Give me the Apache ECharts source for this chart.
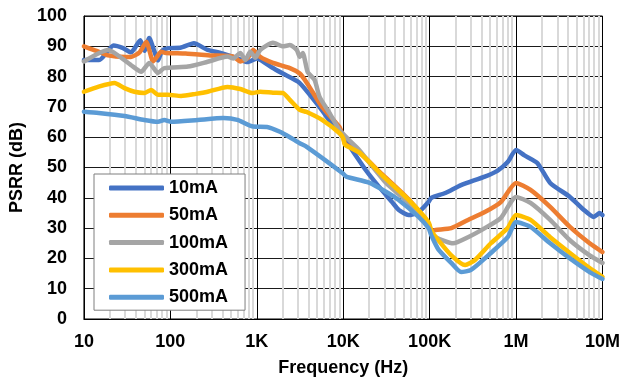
<!DOCTYPE html>
<html><head><meta charset="utf-8">
<script src="https://cdn.jsdelivr.net/npm/echarts@6/dist/echarts.min.js"></script>
<style>html,body{margin:0;padding:0;background:#fff}#c{width:623px;height:385px}</style>
</head><body><div id="c"></div>
<script>
// ---- data (frequency in Hz, PSRR in dB) ----
const seriesNames = ['10mA','50mA','100mA','300mA','500mA'];
const xTickLabels = ['10','100','1K','10K','100K','1M','10M'];
const minorMultipliers = [2,3,4,5,6,7,8,9];

const f10mA = [10,15,22,28,35,45,50,57,65,72,80,94,130,187,270,380,600,780,1000,1500,2000,3100,5300,7600,10000,18400,26000,37000,44000,57000,75000,97000,105000,152000,231000,435000,614000,800000,1000000,1250000,1760000,2480000,4200000,6100000,7900000,9300000,10000000];
const v10mA = [85.5,85.5,90.3,89.5,88,92,88.5,92.7,88.5,85.3,88.5,89.4,89.5,91,88.8,87.8,86,84.8,86,83,81,78,70,64,60,49,43.6,38.5,36,34.3,35.3,38.6,40,41.6,44.2,47,49,51.8,55.8,54,51.5,44.9,40.3,36,33.7,35,34.3];

const f50mA = [10,14,19,30,35,44,53,57,63,70,78,89,150,300,537,645,780,910,1095,1540,2415,3142,3780,5700,9020,10000,10500,15280,28100,57200,97000,105000,117000,178000,278000,435000,665000,1000000,1470000,2480000,4200000,7100000,10000000];
const v50mA = [90,88.5,87,86.5,86.5,88,91.5,88.8,85,86.5,88.2,87.8,87.6,87,86.6,85,86,88.8,86.5,84.5,82.8,81,78,70,63.4,60,57.8,55,47.8,39.5,31.5,29,29.4,30,32.7,35.3,38.6,44.9,42.6,37,30.4,25,22.1];

const f100mA = [10,19,35,46,57,72,85,160,270,458,537,645,736,840,959,1095,1540,2005,2415,2904,3142,3404,3882,4670,5325,6932,9020,11750,15280,31200,57200,97000,105000,117000,187000,278000,435000,665000,1000000,1470000,2480000,4200000,7100000,10000000];
const v100mA = [85,88.8,83.8,81.6,84.5,81.2,82.8,83.3,84.9,86.6,86,87.8,85.5,88.2,86.2,88.8,91.2,90,90.4,88.8,86.5,87.8,81.5,78.9,73.3,68,62.4,59,55.8,45,38.3,31,28.5,27,25,27,30,33.3,40.3,38.3,32.7,26,21,18.5];

const f300mA = [10,14.8,22.6,29.5,38.4,50,60,72,94,133,197,270,458,645,885,1095,1540,2005,2415,3142,3780,5700,9020,10000,10500,15280,28100,57200,97000,105000,126000,178000,257000,335000,511000,800000,1000000,1470000,2480000,4200000,7100000,10000000];
const v300mA = [75,76.7,77.9,76.2,75,74.6,75.6,74,74,73.6,74.3,75,76.6,75.9,74.6,75,74.7,74.6,72.3,69,68.3,65.7,61.4,59.7,57.5,55,47.5,39.3,32,29,26,21,17.8,19.5,25,30,34.3,32.7,27,21.8,16.8,13.9];

const f500mA = [10,14.8,29.5,50,72,85,102,207,412,596,910,1316,1853,2415,3142,3780,9770,10850,19900,31200,43900,74500,97000,105000,126000,178000,231000,301000,511000,800000,1000000,1470000,2480000,4200000,7100000,10000000];
const v500mA = [68.4,68,67,65.7,65.1,65.7,65.1,65.7,66.3,65.7,63.5,63.4,61.8,60,58,56.8,48.2,47,45,42,39.3,33.7,30,27.5,23,18.5,15.5,16.2,21.8,27,32,30.4,25,20,15.5,13.2];

const seriesColors = ['#4472C4','#ED7D31','#A5A5A5','#FFC000','#5B9BD5'];
const freqArrays = [f10mA,f50mA,f100mA,f300mA,f500mA];
const valueArrays = [v10mA,v50mA,v100mA,v300mA,v500mA];

// minor (2..9 per decade) gridline positions
const minorLines = [];
for (let d = 10; d < 1e7; d *= 10) minorMultipliers.forEach(m => minorLines.push({xAxis: d * m}));

const FONT = 'Liberation Sans';
const chart = echarts.init(document.getElementById('c'));
const series = seriesNames.map((name, i) => {
  const s = {
    name, type: 'line', showSymbol: false, symbol: 'none', smooth: 0.2,
    data: freqArrays[i].map((f, j) => [f, valueArrays[i][j]]),
    lineStyle: {color: seriesColors[i], width: 4.5, cap: 'round', join: 'round'},
    itemStyle: {color: seriesColors[i]},
    emphasis: {disabled: true},
    z: 2 + i * 0.01
  };
  if (i === 0) {
    s.markLine = {
      silent: true, symbol: 'none', z: 1, animation: false,
      label: {show: false},
      lineStyle: {color: '#d9d9d9', width: 2, type: 'solid'},
      emphasis: {disabled: true},
      data: minorLines
    };
  }
  return s;
});

chart.setOption({
  animation: false,
  color: seriesColors,
  grid: {left: 82, top: 16, width: 524, height: 303, show: true, borderColor: '#000', borderWidth: 1, backgroundColor: 'transparent'},
  xAxis: {
    type: 'log', logBase: 10, min: 10, max: 1e7,
    name: 'Frequency (Hz)', nameLocation: 'middle', nameGap: 40,
    nameTextStyle: {fontFamily: FONT, fontWeight: 'bold', fontSize: 18, color: '#000'},
    axisLine: {show: true, lineStyle: {color: '#000', width: 1}},
    axisTick: {show: false},
    axisLabel: {margin: 14, fontFamily: FONT, fontWeight: 'bold', fontSize: 18, color: '#000',
      formatter: v => xTickLabels[Math.round(Math.log10(v)) - 1]},
    splitLine: {show: true, lineStyle: {color: '#000', width: 1}},
    minorSplitLine: {show: false}
  },
  yAxis: {
    type: 'value', min: 0, max: 100, interval: 10,
    name: 'PSRR (dB)', nameLocation: 'middle', nameGap: 55,
    nameTextStyle: {fontFamily: FONT, fontWeight: 'bold', fontSize: 18, color: '#000'},
    axisLine: {show: true, lineStyle: {color: '#000', width: 1}},
    axisTick: {show: false},
    axisLabel: {margin: 17, fontFamily: FONT, fontWeight: 'bold', fontSize: 18, color: '#000'},
    splitLine: {show: true, lineStyle: {color: '#1a1a1a', width: 1}}
  },
  legend: {
    data: seriesNames, orient: 'vertical', left: 94, top: 174,
    backgroundColor: '#fff', borderColor: '#7f7f7f', borderWidth: 1,
    padding: [5, 17, 4, 15], itemWidth: 55, itemHeight: 5, itemGap: 9.3,
    icon: 'roundRect', selectedMode: false,
    textStyle: {fontFamily: FONT, fontWeight: 'bold', fontSize: 18, color: '#000'}
  },
  series
});
</script></body></html>
